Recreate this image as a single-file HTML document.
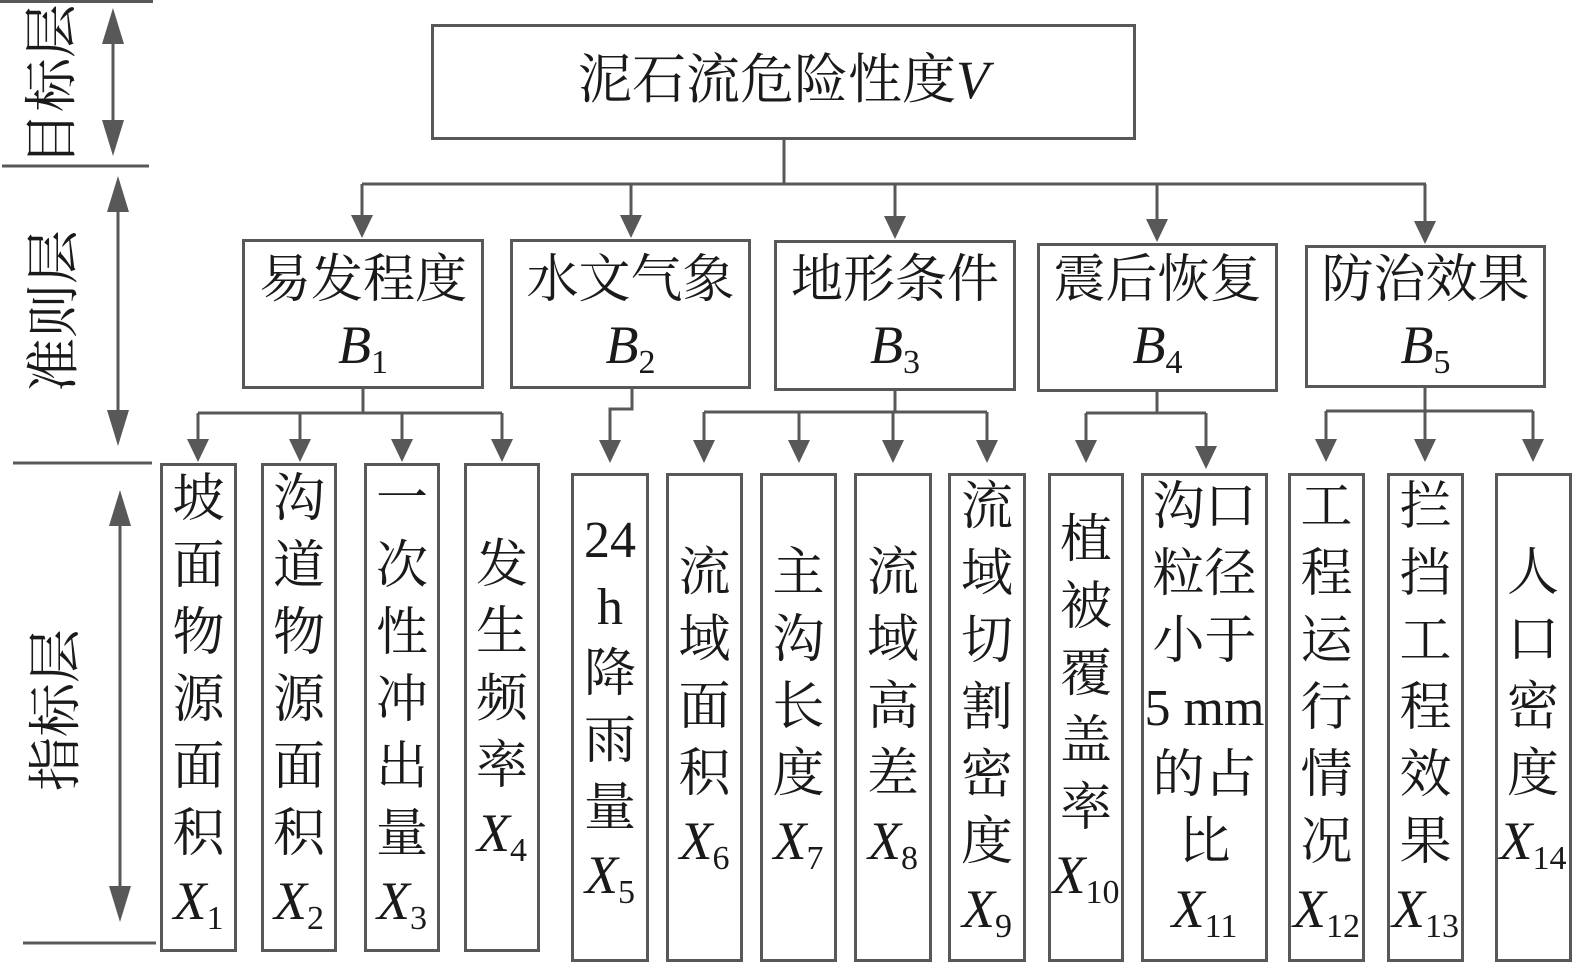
<!DOCTYPE html>
<html><head><meta charset="utf-8">
<style>
html,body{margin:0;padding:0;background:#fff;}
body{width:1575px;height:964px;position:relative;overflow:hidden;font-family:"Liberation Serif","Noto Serif CJK SC",serif;color:#1a1a1a;}
svg{position:absolute;left:0;top:0;}
.t{position:absolute;text-align:center;white-space:nowrap;}
.col{font-size:52px;line-height:67px;}
.b{font-size:52px;line-height:64px;}
i{font-style:italic;font-size:54px;font-family:"Liberation Serif",serif;}
sub{font-size:34px;font-style:normal;vertical-align:-10px;line-height:0;}
.side{position:absolute;font-size:54px;line-height:54px;white-space:nowrap;transform:translate(-50%,-50%) rotate(-90deg);}
</style></head><body>
<svg width="1575" height="964" viewBox="0 0 1575 964">
<g fill="none" stroke="#585858" stroke-width="3">
<!-- left rules -->
<line x1="0" y1="1.5" x2="153" y2="1.5"/>
<line x1="2" y1="166" x2="149" y2="166"/>
<line x1="13" y1="463" x2="152" y2="463"/>
<line x1="23" y1="943" x2="156" y2="943"/>
<!-- side arrows -->
<line x1="113" y1="40" x2="113" y2="124"/>
<line x1="118" y1="208" x2="118" y2="414"/>
<line x1="120" y1="522" x2="120" y2="890"/>
<!-- boxes -->
<rect x="432.5" y="25.5" width="702" height="113"/>
<rect x="243.5" y="240.5" width="239" height="147"/>
<rect x="511.5" y="240.5" width="238" height="147"/>
<rect x="775.5" y="241.5" width="239" height="148"/>
<rect x="1038.5" y="244.5" width="238" height="146"/>
<rect x="1306.5" y="246.5" width="238" height="140"/>
<rect x="161.5" y="464.5" width="74" height="486"/>
<rect x="262.5" y="464.5" width="73" height="486"/>
<rect x="365.5" y="464.5" width="73" height="486"/>
<rect x="465.5" y="464.5" width="73" height="486"/>
<rect x="572.5" y="474.5" width="75" height="486"/>
<rect x="667.5" y="474.5" width="74" height="486"/>
<rect x="761.5" y="474.5" width="74" height="486"/>
<rect x="855.5" y="474.5" width="75" height="486"/>
<rect x="949.5" y="474.5" width="75" height="486"/>
<rect x="1049.5" y="474.5" width="73" height="486"/>
<rect x="1142.5" y="474.5" width="124" height="486"/>
<rect x="1289.5" y="474.5" width="74" height="486"/>
<rect x="1388.5" y="474.5" width="74" height="486"/>
<rect x="1496.5" y="474.5" width="74" height="486"/>
<!-- top connector -->
<polyline points="784,140 784,184"/>
<line x1="362" y1="184" x2="1426" y2="184"/>
<line x1="362" y1="184" x2="362" y2="218"/>
<line x1="631" y1="184" x2="631" y2="218"/>
<line x1="895" y1="184" x2="895" y2="219"/>
<line x1="1157" y1="184" x2="1157" y2="222"/>
<line x1="1425" y1="184" x2="1425" y2="224"/>
<!-- B1 -->
<line x1="363" y1="389" x2="363" y2="413"/>
<line x1="198" y1="413" x2="502" y2="413"/>
<line x1="198" y1="413" x2="198" y2="442"/>
<line x1="300" y1="413" x2="300" y2="442"/>
<line x1="402" y1="413" x2="402" y2="442"/>
<line x1="502" y1="413" x2="502" y2="442"/>
<!-- B2 -->
<polyline points="632,389 632,409 610,409 610,443"/>
<!-- B3 -->
<line x1="895" y1="391" x2="895" y2="412"/>
<line x1="704" y1="412" x2="987" y2="412"/>
<line x1="704" y1="412" x2="704" y2="443"/>
<line x1="799" y1="412" x2="799" y2="443"/>
<line x1="893" y1="412" x2="893" y2="443"/>
<line x1="987" y1="412" x2="987" y2="443"/>
<!-- B4 -->
<line x1="1157" y1="392" x2="1157" y2="413"/>
<line x1="1086" y1="413" x2="1206" y2="413"/>
<line x1="1086" y1="413" x2="1086" y2="443"/>
<line x1="1206" y1="413" x2="1206" y2="449"/>
<!-- B5 -->
<line x1="1425" y1="388" x2="1425" y2="411"/>
<line x1="1326" y1="411" x2="1533" y2="411"/>
<line x1="1326" y1="411" x2="1326" y2="442"/>
<line x1="1425" y1="411" x2="1425" y2="442"/>
<line x1="1533" y1="411" x2="1533" y2="442"/>
</g>
<g fill="#585858" stroke="none">
<!-- side arrowheads -->
<polygon points="102,44 124,44 113,8"/>
<polygon points="102,120 124,120 113,156"/>
<polygon points="107,212 129,212 118,176"/>
<polygon points="107,410 129,410 118,446"/>
<polygon points="109,526 131,526 120,490"/>
<polygon points="109,886 131,886 120,922"/>
<!-- top level arrowheads -->
<polygon points="351,215 373,215 362,238"/>
<polygon points="620,215 642,215 631,238"/>
<polygon points="884,216 906,216 895,239"/>
<polygon points="1146,219 1168,219 1157,242"/>
<polygon points="1414,221 1436,221 1425,244"/>
<!-- B1 children -->
<polygon points="187,439 209,439 198,462"/>
<polygon points="289,439 311,439 300,462"/>
<polygon points="391,439 413,439 402,462"/>
<polygon points="491,439 513,439 502,462"/>
<!-- B2 -->
<polygon points="599,440 621,440 610,463"/>
<!-- B3 -->
<polygon points="693,440 715,440 704,463"/>
<polygon points="788,440 810,440 799,463"/>
<polygon points="882,440 904,440 893,463"/>
<polygon points="976,440 998,440 987,463"/>
<!-- B4 -->
<polygon points="1075,440 1097,440 1086,463"/>
<polygon points="1195,446 1217,446 1206,469"/>
<!-- B5 -->
<polygon points="1315,439 1337,439 1326,462"/>
<polygon points="1414,439 1436,439 1425,462"/>
<polygon points="1522,439 1544,439 1533,462"/>
</g>
</svg>

<!-- side labels -->
<div class="side" style="left:52px;top:85px;">目标层</div>
<div class="side" style="left:54px;top:311px;">准则层</div>
<div class="side" style="left:56px;top:710px;">指标层</div>

<!-- title -->
<div class="t" style="left:431px;width:705px;top:50px;font-size:54px;line-height:60px;">泥石流危险性度<i>V</i></div>

<!-- B boxes -->
<div class="t b" style="left:242px;width:242px;top:249px;">易发程度<br><i>B</i><sub>1</sub></div>
<div class="t b" style="left:510px;width:241px;top:249px;">水文气象<br><i>B</i><sub>2</sub></div>
<div class="t b" style="left:774px;width:242px;top:249px;">地形条件<br><i>B</i><sub>3</sub></div>
<div class="t b" style="left:1037px;width:241px;top:249px;">震后恢复<br><i>B</i><sub>4</sub></div>
<div class="t b" style="left:1305px;width:241px;top:249px;">防治效果<br><i>B</i><sub>5</sub></div>

<!-- X columns -->
<div class="t col" style="left:160px;width:77px;top:466px;">坡<br>面<br>物<br>源<br>面<br>积<br><i>X</i><sub>1</sub></div>
<div class="t col" style="left:261px;width:76px;top:466px;">沟<br>道<br>物<br>源<br>面<br>积<br><i>X</i><sub>2</sub></div>
<div class="t col" style="left:364px;width:76px;top:466px;">一<br>次<br>性<br>冲<br>出<br>量<br><i>X</i><sub>3</sub></div>
<div class="t col" style="left:464px;width:76px;top:532px;">发<br>生<br>频<br>率<br><i>X</i><sub>4</sub></div>
<div class="t col" style="left:571px;width:78px;top:507px;">24<br>h<br>降<br>雨<br>量<br><i>X</i><sub>5</sub></div>
<div class="t col" style="left:666px;width:77px;top:540px;">流<br>域<br>面<br>积<br><i>X</i><sub>6</sub></div>
<div class="t col" style="left:760px;width:77px;top:540px;">主<br>沟<br>长<br>度<br><i>X</i><sub>7</sub></div>
<div class="t col" style="left:854px;width:78px;top:540px;">流<br>域<br>高<br>差<br><i>X</i><sub>8</sub></div>
<div class="t col" style="left:948px;width:78px;top:474px;">流<br>域<br>切<br>割<br>密<br>度<br><i>X</i><sub>9</sub></div>
<div class="t col" style="left:1048px;width:76px;top:507px;">植<br>被<br>覆<br>盖<br>率<br><i>X</i><sub>10</sub></div>
<div class="t col" style="left:1141px;width:127px;top:474px;">沟口<br>粒径<br>小于<br>5 mm<br>的占<br>比<br><i>X</i><sub>11</sub></div>
<div class="t col" style="left:1288px;width:77px;top:474px;">工<br>程<br>运<br>行<br>情<br>况<br><i>X</i><sub>12</sub></div>
<div class="t col" style="left:1387px;width:77px;top:474px;">拦<br>挡<br>工<br>程<br>效<br>果<br><i>X</i><sub>13</sub></div>
<div class="t col" style="left:1495px;width:76px;top:540px;">人<br>口<br>密<br>度<br><i>X</i><sub>14</sub></div>
</body></html>
